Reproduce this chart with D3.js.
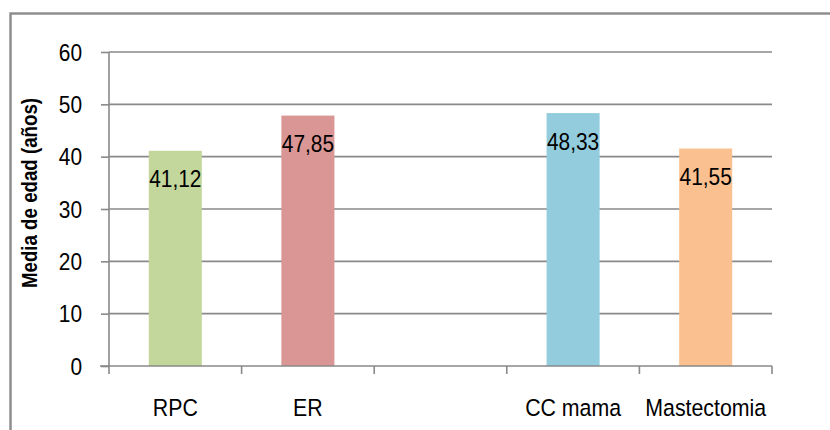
<!DOCTYPE html>
<html>
<head>
<meta charset="utf-8">
<script src="https://cdn.jsdelivr.net/npm/d3@7/dist/d3.min.js"></script>
<style>
  html, body { margin: 0; padding: 0; background: #fff; }
  svg { display: block; font-family: "Liberation Sans", Arial, sans-serif; }
</style>
</head>
<body>
<svg id="chart" width="830" height="430"></svg>
<script>
// Mean age per group (one empty slot between ER and CC mama)
const categories = ["RPC", "ER", "", "CC mama", "Mastectomia"];
const values = [41.12, 47.85, null, 48.33, 41.55];
const barColors = ["#c3d69b", "#d99694", "#ffffff", "#93cddd", "#fac090"];
const yTicks = [0, 10, 20, 30, 40, 50, 60];
const yTitle = "Media de edad (años)";

const svg = d3.select("#chart");
const plotLeft = 109, plotRight = 772, plotTop = 52, plotBottom = 366;
const narrow = 0.87; // horizontal squeeze for the condensed face

const x = d3.scaleBand().domain(categories).range([plotLeft, plotRight]).paddingInner(0.6).paddingOuter(0.3);
const xEdges = d3.scaleBand().domain(categories).range([plotLeft, plotRight]);
const y = d3.scaleLinear().domain([0, 60]).range([plotBottom, plotTop]);

const gridColor = "#898989";

// outer frame
svg.append("path")
  .attr("d", "M10.5,431 L10.5,13.5 L831,13.5")
  .attr("fill", "none").attr("stroke", "#8e8e8e").attr("stroke-width", 2.5);

// horizontal gridlines
svg.append("g").selectAll("line").data(yTicks.filter(d => d > 0)).join("line")
  .attr("x1", plotLeft).attr("x2", plotRight)
  .attr("y1", d => y(d)).attr("y2", d => y(d))
  .attr("stroke", gridColor).attr("stroke-width", 1.6);

// bars
svg.append("g").selectAll("rect").data(categories.map((c, i) => ({c, v: values[i], col: barColors[i]})).filter(d => d.v != null))
  .join("rect")
  .attr("x", d => x(d.c))
  .attr("width", x.bandwidth())
  .attr("y", d => y(d.v))
  .attr("height", d => y(0) - y(d.v))
  .attr("fill", d => d.col);

// y axis line and ticks
const yAxis = d3.axisLeft(y).tickValues(yTicks).tickSize(8).tickFormat("");
const gy = svg.append("g").attr("transform", `translate(${plotLeft},0)`).call(yAxis);
gy.selectAll("path, line").attr("stroke", gridColor).attr("stroke-width", 1.6);
gy.select(".domain").attr("d", `M0,${plotTop}V${plotBottom}`);

// y tick labels
svg.append("g").selectAll("g").data(yTicks).join("g")
  .attr("transform", d => `translate(82,${y(d) + 8.5}) scale(${narrow},1)`)
  .append("text")
  .attr("text-anchor", "end")
  .attr("font-size", 24)
  .attr("fill", "#000")
  .text(d => d);

// x axis baseline and band-edge ticks
svg.append("line").attr("x1", 100).attr("x2", plotRight)
  .attr("y1", plotBottom).attr("y2", plotBottom)
  .attr("stroke", gridColor).attr("stroke-width", 1.6);
const edges = categories.map(c => xEdges(c)).concat([plotRight]);
svg.append("g").selectAll("line").data(edges).join("line")
  .attr("x1", d => d).attr("x2", d => d)
  .attr("y1", plotBottom).attr("y2", plotBottom + 8)
  .attr("stroke", gridColor).attr("stroke-width", 1.6);

// category labels
svg.append("g").selectAll("g").data(categories.filter(c => c)).join("g")
  .attr("transform", c => `translate(${xEdges(c) + xEdges.bandwidth() / 2},415.5) scale(${narrow},1)`)
  .append("text")
  .attr("text-anchor", "middle")
  .attr("font-size", 24.5)
  .attr("fill", "#000")
  .text(c => c);

// value labels inside bar tops
const fmt = v => v.toFixed(2).replace(".", ",");
svg.append("g").selectAll("g").data(categories.map((c, i) => ({c, v: values[i]})).filter(d => d.v != null))
  .join("g")
  .attr("transform", d => `translate(${x(d.c) + x.bandwidth() / 2},${y(d.v) + 36.5}) scale(${narrow},1)`)
  .append("text")
  .attr("text-anchor", "middle")
  .attr("font-size", 24)
  .attr("fill", "#000")
  .text(d => fmt(d.v));

// y axis title
svg.append("g")
  .attr("transform", `translate(36.5,193) rotate(-90) scale(${narrow},1)`)
  .append("text")
  .attr("text-anchor", "middle")
  .attr("font-size", 21.5)
  .attr("font-weight", "bold")
  .attr("fill", "#000")
  .text(yTitle);
</script>
</body>
</html>
